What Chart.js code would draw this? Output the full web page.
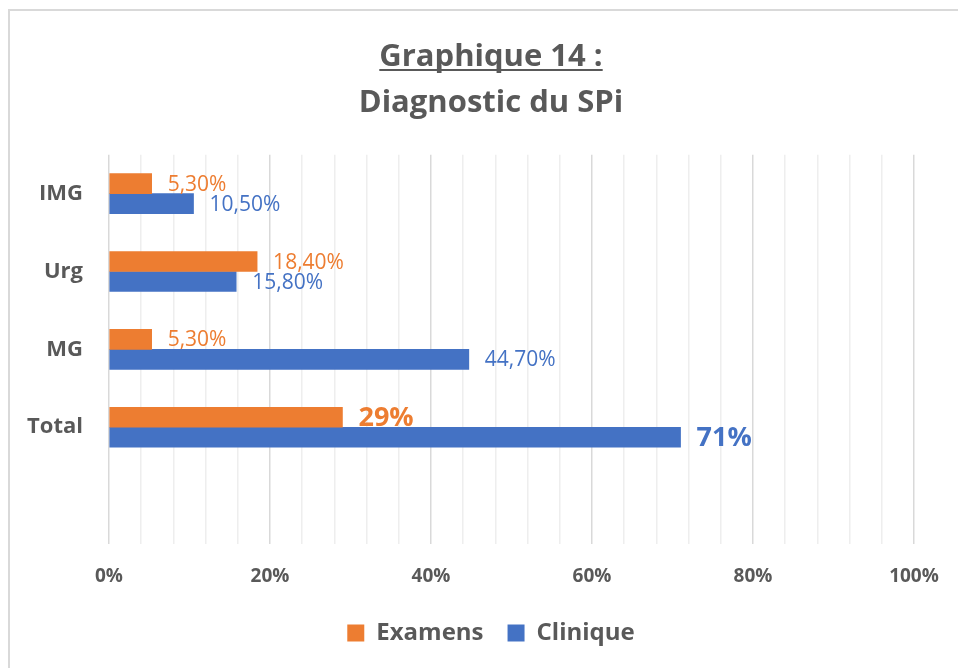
<!DOCTYPE html>
<html>
<head>
<meta charset="utf-8">
<script src="https://cdn.jsdelivr.net/npm/chart.js@4.4.0/dist/chart.umd.min.js"></script>
<style>
  body { margin: 0; background: #fff; overflow: hidden; }
  #wrap { position: relative; width: 958px; height: 668px; overflow: hidden; }
  #frame { position: absolute; left: 8px; top: 9px; width: 980px; height: 700px; border: 2px solid #d9d9d9; }
  canvas { position: absolute; left: 0; top: 0; }
</style>
</head>
<body>
<div id="wrap">
  <div id="frame"></div>
  <canvas id="barChart" width="958" height="668"></canvas>
</div>
<script>
var categories = ['IMG', 'Urg', 'MG', 'Total', ''];
var examens = [5.3, 18.4, 5.3, 29, null];
var clinique = [10.5, 15.8, 44.7, 71, null];
var xTicks = [0, 20, 40, 60, 80, 100];
var titleLines = ['Graphique 14 :', 'Diagnostic du SPi'];

var FONT = '"Open Sans"';
var GREY = '#595959';

function fmt(v, isTotal) {
    if (isTotal) return Math.round(v) + '%';
    return v.toFixed(2).replace('.', ',') + '%';
}

// labels at the end of each bar
var valueLabels = {
    id: 'valueLabels',
    afterDatasetsDraw: function (chart) {
        var ctx = chart.ctx;
        chart.data.datasets.forEach(function (ds, i) {
            var meta = chart.getDatasetMeta(i);
            meta.data.forEach(function (bar, j) {
                var v = ds.data[j];
                if (v == null) return;
                var isTotal = categories[j] == 'Total';
                ctx.save();
                ctx.fillStyle = ds.backgroundColor;
                ctx.font = isTotal ? 'bold 27px ' + FONT : '21px ' + FONT;
                ctx.textBaseline = 'middle';
                ctx.fillText(fmt(v, isTotal), bar.x + 16, bar.y + 1);
                ctx.restore();
            });
        });
    }
};

// underline the first title line
var titleUnderline = {
    id: 'titleUnderline',
    afterDraw: function (chart) {
        var ctx = chart.ctx;
        var tb = chart.titleBlock;
        ctx.save();
        ctx.font = 'bold 31px ' + FONT;
        var w = ctx.measureText(titleLines[0]).width;
        var cx = tb.left + tb.width / 2;
        var y = tb.top + 34 + 23 + 13;
        ctx.strokeStyle = GREY;
        ctx.lineWidth = 2;
        ctx.beginPath();
        ctx.moveTo(cx - w / 2, y);
        ctx.lineTo(cx + w / 2, y);
        ctx.stroke();
        ctx.restore();
    }
};

var ctx = document.getElementById('barChart').getContext('2d');

var myBarChart = new Chart(ctx, {
    type: 'bar',
    data: {
        labels: categories,
        datasets: [{
            label: 'Examens',
            data: examens,
            backgroundColor: '#ED7D31',
            barThickness: 20
        }, {
            label: 'Clinique',
            data: clinique,
            backgroundColor: '#4472C4',
            barThickness: 20
        }]
    },
    options: {
        indexAxis: 'y',
        responsive: false,
        animation: false,
        layout: { padding: { left: 24, right: 0, top: 0, bottom: 13 } },
        scales: {
            x: {
                min: 0,
                max: 100,
                border: { display: false },
                grid: {
                    drawTicks: false,
                    lineWidth: 1.5,
                    color: function (c) {
                        return xTicks.indexOf(c.tick.value) >= 0 ? '#d9d9d9' : '#eeeeee';
                    }
                },
                ticks: {
                    stepSize: 4,
                    autoSkip: false,
                    maxRotation: 0,
                    padding: 21,
                    color: GREY,
                    font: { family: FONT, size: 19, weight: 'bold' },
                    callback: function (v) {
                        return xTicks.indexOf(v) >= 0 ? v + '%' : '';
                    }
                },
                afterFit: function (scale) {
                    scale.height = 53;
                    scale.paddingRight = 44;
                }
            },
            y: {
                border: { display: false },
                grid: { display: false },
                ticks: {
                    padding: 18,
                    color: GREY,
                    font: { family: FONT, size: 22, weight: 'bold' }
                },
                afterFit: function (scale) { scale.width = 109 - 24; }
            }
        },
        plugins: {
            title: {
                display: true,
                text: titleLines,
                color: GREY,
                font: { family: FONT, size: 31, weight: 'bold', lineHeight: 1.48 },
                padding: { top: 34, bottom: 29 }
            },
            legend: {
                position: 'bottom',
                labels: {
                    boxWidth: 17,
                    boxHeight: 17,
                    padding: 24,
                    color: GREY,
                    font: { family: FONT, size: 24, weight: 'bold' }
                }
            },
            tooltip: { enabled: false }
        }
    },
    plugins: [valueLabels, titleUnderline]
});
</script>
</body>
</html>
